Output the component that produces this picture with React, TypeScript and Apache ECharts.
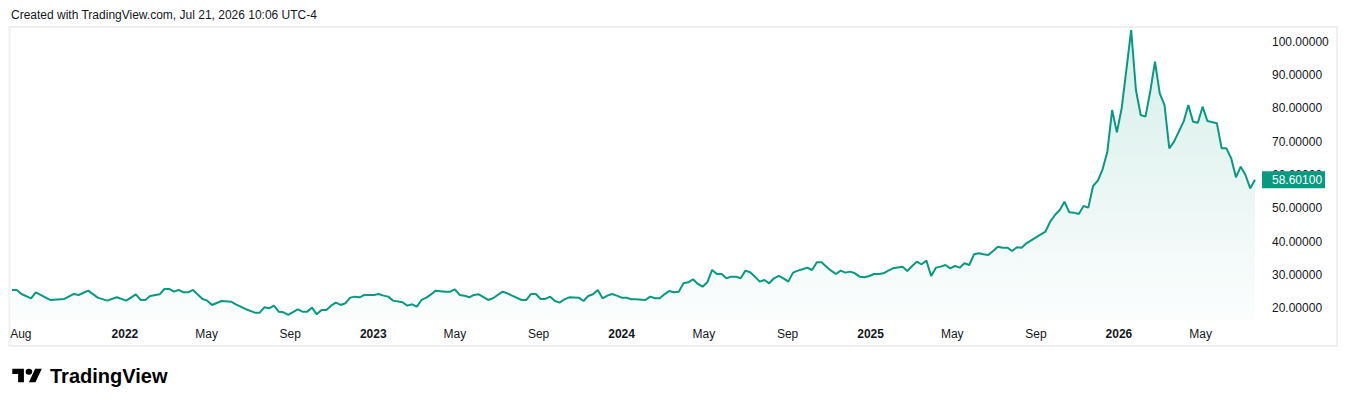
import React, { useEffect, useRef } from "react";
import * as echarts from "echarts";

// weeks since 2021-07-19 (weekly bars) and the close
const weekNo = [
  0, 1, 2, 4, 5, 8, 11, 13, 14, 16, 18, 20, 22, 24, 26, 27, 28, 29, 31, 32, 33, 34, 35, 36, 37, 38, 40, 41, 42, 44, 46, 47, 49,
  51, 52, 53, 54, 55, 56, 57, 58, 60, 61, 62, 63, 64, 65, 66, 67, 68, 69, 70, 71, 72, 73, 74, 76, 77, 78, 79, 80, 82, 83, 84, 85,
  86, 87, 88, 89, 91, 92, 93, 94, 95, 96, 97, 98, 100, 101, 103, 104, 105, 107, 108, 109, 110, 111, 112, 113, 114, 115, 116, 117,
  119, 120, 121, 122, 123, 124, 125, 126, 127, 128, 129, 130, 131, 133, 134, 135, 136, 137, 138, 139, 140, 141, 142, 143, 144,
  145, 146, 147, 148, 149, 150, 151, 152, 153, 154, 155, 156, 157, 158, 159, 160, 161, 162, 163, 164, 165, 166, 167, 168, 169,
  170, 171, 172, 173, 174, 175, 176, 177, 178, 179, 180, 181, 182, 183, 184, 185, 187, 188, 189, 190, 191, 192, 193, 194, 195,
  196, 197, 198, 199, 200, 201, 202, 203, 204, 205, 206, 207, 208, 209, 210, 211, 212, 213, 215, 217, 218, 219, 220, 221, 222,
  223, 224, 225, 226, 227, 228, 229, 230, 231, 232, 233, 234, 235, 236, 237, 238, 239, 240, 241, 242, 243, 244, 245, 246, 247,
  248, 249, 250, 251, 253, 254, 255, 256, 257, 258, 259, 260, 261,
];
const price = [
  25.5, 25.5, 24.3, 23.0, 24.8, 22.5, 22.8, 24.3, 24.0, 25.3, 23.2, 22.3, 23.3, 22.3, 24.2, 22.5, 22.5, 23.7, 24.2, 25.8, 25.8,
  25.0, 25.5, 24.8, 24.8, 25.5, 22.8, 22.3, 21.0, 22.2, 22.0, 21.2, 19.8,
  18.7, 18.7, 20.3, 20.0, 20.8, 19.0, 18.8, 18.0, 19.7, 19.0, 19.0, 20.2, 18.2, 19.5, 19.5, 20.8, 21.7, 21.0, 21.5, 23.2, 23.5,
  23.3, 24.0, 24.0, 24.3, 23.8, 23.5, 22.3, 21.8, 20.8, 21.2, 20.5,
  22.5, 23.2, 24.2, 25.3, 25.0, 25.0, 25.7, 24.0, 23.8, 23.3, 24.0, 24.2, 22.5, 23.0, 25.0, 24.5, 23.8, 22.5, 22.5, 24.3, 24.3,
  22.8, 22.8, 23.5, 22.2, 21.7, 22.7, 23.3,
  23.2, 22.2, 23.7, 24.2, 25.5, 23.0, 23.8, 24.3, 23.8, 23.2, 23.2, 22.7, 22.7, 22.5, 23.5, 23.0, 23.0, 24.2, 25.2, 24.8, 25.0,
  27.5, 27.8, 28.7, 27.3,
  26.5, 27.8, 31.5, 30.3, 30.3, 29.0, 29.5, 29.5, 29.0, 31.3, 30.8, 29.5, 28.0, 28.5, 27.5, 29.0, 29.7, 29.0, 28.0, 30.7, 31.3,
  31.7, 32.2, 31.5, 33.8,
  33.8, 32.5, 31.3, 30.3, 31.3, 30.7, 31.0, 30.5, 29.5, 29.3, 29.7, 30.3, 30.3, 30.5, 31.3, 32.0, 32.5, 31.2, 32.7, 34.0, 33.2,
  34.3, 29.7, 32.2, 32.5,
  33.0, 32.0, 32.7, 32.2, 33.5, 33.0, 36.2, 36.5, 36.2, 36.0, 37.2, 38.5, 38.2, 38.2, 37.2, 38.3, 38.2, 39.5, 41.3, 43.0, 46.0,
  48.0, 49.5, 52.0, 48.8,
  48.7, 48.3, 50.7, 50.2, 56.7, 58.3, 61.7, 67.0, 79.5, 72.8, 80.0, 91.7, 103.5, 85.5, 78.0, 77.5, 85.0, 94.0, 84.5, 81.0, 68.0,
  70.0, 73.0, 76.0, 81.0,
  76.0, 75.7, 80.5, 76.2, 75.5, 68.0, 68.0, 65.0, 59.3, 62.5, 60.0, 56.0, 58.601,
];

const startDate = "2021-07-19";
const tickDates = [
  "2021-08-01", "2022-01-01", "2022-05-01", "2022-09-01", "2023-01-01", "2023-05-01", "2023-09-01", "2024-01-01",
  "2024-05-01", "2024-09-01", "2025-01-01", "2025-05-01", "2025-09-01", "2026-01-01", "2026-05-01",
];
const tickLabels = [
  "Aug", "2022", "May", "Sep", "2023", "May", "Sep", "2024", "May", "Sep", "2025", "May", "Sep", "2026", "May",
];
const priceTicks = [20, 30, 40, 50, 60, 70, 80, 90, 100];

const FONT = "'Liberation Sans', Arial, sans-serif";
const TEXT = "#131722";
const GREEN = "#089981";
const DAY = 86400000;

const logoPath =
  "M14 22H7V11H0V4h14v18zM28 22h-8l7.5-18h8L28 22zM24 8a4 4 0 1 1-8 0a4 4 0 0 1 8 0z";

export default function App() {
  const ref = useRef<HTMLDivElement>(null);
  useEffect(() => {
    if (!ref.current) return;
    try {
      echarts.graphic.registerShape("tvlogo", echarts.graphic.extendPath(logoPath, {}));
    } catch (e) {}
    const chart = echarts.init(ref.current, undefined, { renderer: "svg" });
    const t0 = Date.parse(startDate);
    // x in days since the first weekly bar
    const data = weekNo.map((w, i) => [w * 7, price[i]]);
    const xMax = weekNo[weekNo.length - 1] * 7;
    const tickDays = tickDates.map((d) => Math.round((Date.parse(d) - t0) / DAY));
    const labelMap = new Map<number, string>();
    tickDays.forEach((t, i) => labelMap.set(t, tickLabels[i]));

    chart.setOption({
      animation: false,
      backgroundColor: "#ffffff",
      grid: { left: 12, top: 27, width: 1243, height: 293, containLabel: false },
      xAxis: {
        type: "value",
        min: 0,
        max: xMax,
        axisLine: { show: false },
        axisTick: { show: false },
        splitLine: { show: false },
        axisLabel: {
          customValues: tickDays,
          hideOverlap: false,
          showMinLabel: true,
          showMaxLabel: true,
          margin: 8,
          color: TEXT,
          fontSize: 12,
          fontFamily: FONT,
          formatter: (v: number) => {
            const s = labelMap.get(Math.round(v)) ?? "";
            return /^\d{4}$/.test(s) ? "{b|" + s + "}" : s;
          },
          rich: {
            b: { fontWeight: "bold", fontSize: 12, color: TEXT, fontFamily: FONT },
          },
        },
      },
      yAxis: {
        type: "value",
        position: "right",
        min: 16.49,
        max: 104.41,
        axisLine: { show: false },
        axisTick: { show: false },
        splitLine: { show: false },
        axisLabel: {
          customValues: priceTicks,
          margin: 17,
          color: TEXT,
          fontSize: 12,
          fontFamily: FONT,
          formatter: (v: number) => v.toFixed(5),
        },
      },
      series: [
        {
          type: "line",
          data,
          symbol: "none",
          lineStyle: { color: GREEN, width: 2 },
          areaStyle: {
            origin: "start",
            color: new echarts.graphic.LinearGradient(0, 0, 0, 1, [
              { offset: 0, color: "rgba(8,153,129,0.24)" },
              { offset: 1, color: "rgba(8,153,129,0.02)" },
            ]),
          },
          endLabel: {
            show: true,
            distance: 7,
            formatter: () => price[price.length - 1].toFixed(5),
            backgroundColor: GREEN,
            color: "#ffffff",
            fontSize: 12,
            fontFamily: FONT,
            lineHeight: 12,
            padding: [3, 3, 2, 10],
          },
          z: 5,
        },
      ],
      graphic: [
        {
          type: "rect",
          shape: { x: 9.5, y: 27, width: 1327.5, height: 319 },
          style: { fill: "none", stroke: "#efefef", lineWidth: 2 },
          silent: true,
          z: -1,
        },
        {
          type: "text",
          x: 11,
          y: 15,
          style: {
            text: "Created with TradingView.com, Jul 21, 2026 10:06 UTC-4",
            fill: TEXT,
            font: "12px " + FONT,
            verticalAlign: "middle",
            align: "left",
          },
        },
        {
          type: "tvlogo",
          x: 12.3,
          y: 365.9,
          scaleX: 0.83,
          scaleY: 0.74,
          style: { fill: "#000000" },
        },
        {
          type: "text",
          x: 50,
          y: 376,
          style: {
            text: "TradingView",
            fill: "#000000",
            font: "bold 20px " + FONT,
            verticalAlign: "middle",
            align: "left",
          },
        },
      ],
    });
    return () => chart.dispose();
  }, []);
  return (
    <div
      ref={ref}
      style={{ position: "fixed", left: 0, top: 0, width: 1348, height: 407, background: "#fff" }}
    />
  );
}
